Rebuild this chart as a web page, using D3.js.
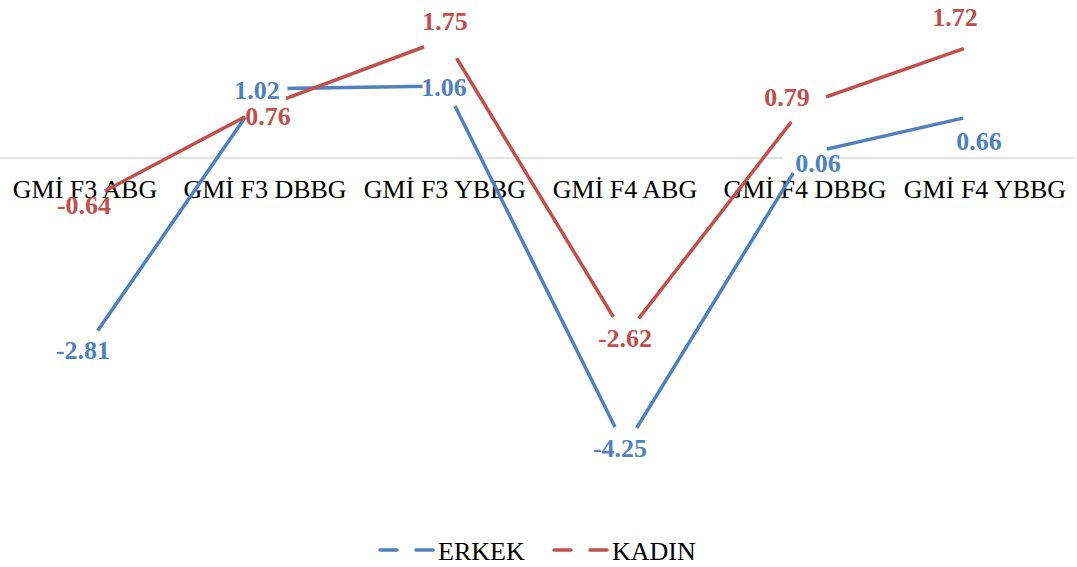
<!DOCTYPE html>
<html>
<head>
<meta charset="utf-8">
<script src="https://cdn.jsdelivr.net/npm/d3@7"></script>
<style>
  body { margin: 0; background: #fff; }
  svg { display: block; }
</style>
</head>
<body>
<div id="chart"></div>
<script>
// chart data
let categories = ["GMİ F3 ABG", "GMİ F3 DBBG", "GMİ F3 YBBG", "GMİ F4 ABG", "GMİ F4 DBBG", "GMİ F4 YBBG"];
let erkek = [-2.81, 1.02, 1.06, -4.25, 0.06, 0.66];
let kadin = [-0.64, 0.76, 1.75, -2.62, 0.79, 1.72];

let width = 1077, height = 567;

let series = [
  { name: "ERKEK", values: erkek, color: "#4F81BD" },
  { name: "KADIN", values: kadin, color: "#C0504D" }
];

// where each data label sits relative to its point (px)
let labelNudge = {
  ERKEK: [[-2, 1], [-8, 1], [-1, 1], [-5, 1], [13, 9], [-6, 28]],
  KADIN: [[-1, 3], [3, 10], [0, -18], [0, 2], [-18, -7], [-30, -24]]
};

let xScale = d3.scalePoint().domain(categories).range([85, 985]);
let yScale = d3.scaleLinear().domain([-5, 2]).range([498, 22]);

let svg = d3.select("#chart")
  .append("svg")
  .attr("width", width)
  .attr("height", height);

// the (invisible) markers cut the lines around every point
let mask = svg.append("defs")
  .append("mask")
  .attr("id", "markerCut")
  .attr("maskUnits", "userSpaceOnUse")
  .attr("x", 0).attr("y", 0)
  .attr("width", width).attr("height", height);
mask.append("rect")
  .attr("width", width).attr("height", height)
  .attr("fill", "#fff");
series.forEach(function(s) {
  mask.selectAll(null)
    .data(s.values)
    .enter()
    .append("circle")
    .attr("cx", (d, i) => xScale(categories[i]))
    .attr("cy", d => yScale(d))
    .attr("r", 22.5)
    .attr("fill", "#000");
});

// category labels
svg.append("g")
  .selectAll("text")
  .data(categories)
  .enter()
  .append("text")
  .attr("x", d => xScale(d))
  .attr("y", 198)
  .attr("text-anchor", "middle")
  .attr("font-family", "Liberation Serif, Times New Roman, serif")
  .attr("font-size", 26)
  .attr("fill", "#000")
  .text(d => d);

let plot = svg.append("g").attr("mask", "url(#markerCut)");

// zero line
plot.append("line")
  .attr("x1", 0).attr("x2", 1075)
  .attr("y1", yScale(0)).attr("y2", yScale(0))
  .attr("stroke", "#D9D9D9")
  .attr("stroke-width", 1.5);

let line = d3.line()
  .x((d, i) => xScale(categories[i]))
  .y(d => yScale(d));

series.forEach(function(s) {
  plot.append("path")
    .datum(s.values)
    .attr("d", line)
    .attr("fill", "none")
    .attr("stroke", s.color)
    .attr("stroke-width", 3.5);
});

series.forEach(function(s) {
  svg.append("g")
    .selectAll("text")
    .data(s.values)
    .enter()
    .append("text")
    .attr("x", (d, i) => xScale(categories[i]) + labelNudge[s.name][i][0])
    .attr("y", (d, i) => yScale(d) + labelNudge[s.name][i][1] + 9)
    .attr("text-anchor", "middle")
    .attr("font-family", "Liberation Serif, Times New Roman, serif")
    .attr("font-weight", "bold")
    .attr("font-size", 26)
    .attr("fill", s.color)
    .text(d => d.toFixed(2));
});

// legend
let legendItems = [
  { name: "ERKEK", color: "#4F81BD", x: 380 },
  { name: "KADIN", color: "#C0504D", x: 554 }
];
let legend = svg.append("g")
  .selectAll("g")
  .data(legendItems)
  .enter()
  .append("g")
  .attr("transform", d => "translate(" + d.x + ",550)");

legend.append("line")
  .attr("x1", 0).attr("x2", 17)
  .attr("y1", 0).attr("y2", 0)
  .attr("stroke", d => d.color)
  .attr("stroke-width", 3.5)
  .attr("stroke-linecap", "round");
legend.append("line")
  .attr("x1", 36).attr("x2", 53)
  .attr("y1", 0).attr("y2", 0)
  .attr("stroke", d => d.color)
  .attr("stroke-width", 3.5)
  .attr("stroke-linecap", "round");
legend.append("text")
  .attr("x", 58)
  .attr("y", 10)
  .attr("font-family", "Liberation Serif, Times New Roman, serif")
  .attr("font-size", 26)
  .attr("fill", "#000")
  .text(d => d.name);
</script>
</body>
</html>
